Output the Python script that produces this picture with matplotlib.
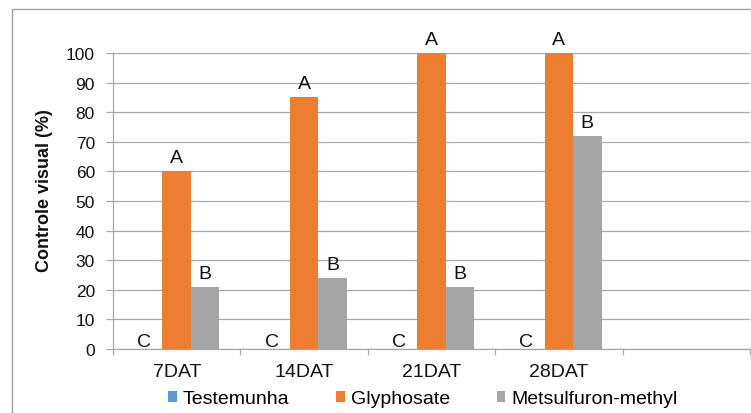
import matplotlib
matplotlib.use('Agg')
import matplotlib.pyplot as plt
import numpy as np
from matplotlib.patches import Rectangle

# ---- data ----
categories = ['7DAT', '14DAT', '21DAT', '28DAT']
series_names = ['Testemunha', 'Glyphosate', 'Metsulfuron-methyl']
testemunha = [0, 0, 0, 0]
glyphosate = [60, 85, 100, 100]
metsulfuron = [21, 24, 21, 72]
letters_test = ['C', 'C', 'C', 'C']
letters_gly = ['A', 'A', 'A', 'A']
letters_met = ['B', 'B', 'B', 'B']
yticks = list(range(0, 101, 10))
ylabel = 'Controle visual (%)'

colors = ['#5B9BD5', '#ED7D31', '#A5A5A5']
grid_c = '#A8A8A8'

plt.rcParams['font.family'] = ['Liberation Sans', 'DejaVu Sans']

W, H = 751, 414
fig = plt.figure(figsize=(W / 100, H / 100), dpi=100)
ax = fig.add_axes([113 / W, 64 / H, 637 / W, 296 / H])

# chart border (left/top visible)
fig.patches.append(Rectangle((12 / W, -0.5), 2, 0.5 + 1 - 10 / H,
                             transform=fig.transFigure, fill=False,
                             edgecolor='#A0A0A0', lw=1.0))

x = np.arange(len(categories))
w = 0.223
series = [testemunha, glyphosate, metsulfuron]
letters = [letters_test, letters_gly, letters_met]
handles = []
for i, (vals, name, col, lets) in enumerate(zip(series, series_names, colors, letters)):
    pos = x + (i - 1) * w
    b = ax.bar(pos, vals, w, color=col, label=name, zorder=3)
    handles.append(b)
    for p, v, t in zip(pos, vals, lets):
        if v == 0:
            off = (-3, 2)
        else:
            off = (0, 6.5)
        ax.annotate(t, (p, v), xytext=off, textcoords='offset points',
                    ha='center', va='baseline', fontsize=14, color='#111111')

ax.set_xlim(-0.5, 4.5)
ax.set_ylim(0, 100)
ax.set_yticks(yticks)
ax.set_xticks(x)
ax.set_xticklabels(categories)
ax.set_xticks(np.arange(-0.5, 4.6, 1.0), minor=True)
ax.tick_params(axis='x', which='major', length=0, pad=10, labelsize=14, labelcolor='#111111')
ax.tick_params(axis='x', which='minor', length=4.5, width=0.9, color=grid_c)
ax.tick_params(axis='y', length=5, width=0.9, color=grid_c, pad=8, labelsize=12.5, labelcolor='#111111')
ax.grid(axis='y', color=grid_c, lw=0.9, zorder=0)
ax.set_axisbelow(True)
for s in ['top', 'right']:
    ax.spines[s].set_visible(False)
for s in ['left', 'bottom']:
    ax.spines[s].set_color(grid_c)
    ax.spines[s].set_linewidth(0.9)

ax.set_ylabel(ylabel, fontsize=13, fontweight='bold', color='#111111')
ax.yaxis.set_label_coords(-0.094, 0.537)

fig.legend(handles, series_names, loc='center', bbox_to_anchor=(423 / W, 1 - 400 / H),
           ncol=3, frameon=False, fontsize=14, handlelength=0.45, handleheight=0.45,
           handletextpad=0.3, columnspacing=2.4)

fig.savefig('out.png', dpi=100)
